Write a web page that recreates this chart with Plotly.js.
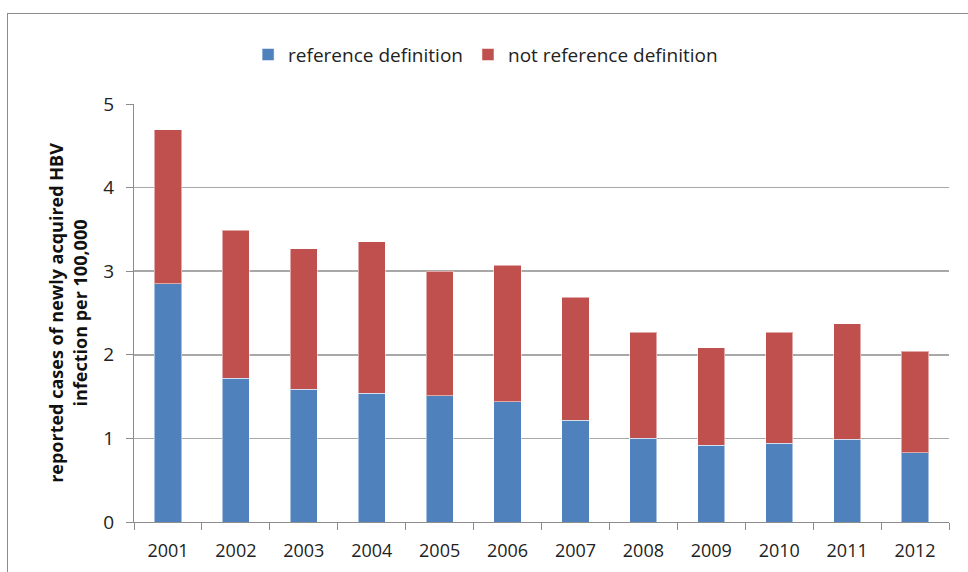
<!DOCTYPE html>
<html>
<head>
<meta charset="utf-8">
<script src="https://cdn.plot.ly/plotly-3.0.1.min.js"></script>
<style>
  html, body { margin: 0; padding: 0; background: #fff; }
  #wrap { position: relative; width: 968px; height: 572px; }
  #chart { width: 968px; height: 572px; }
  #frame { position: absolute; left: 7px; top: 13px; right: 0; bottom: 0;
           border-left: 1px solid #8c8c8c; border-top: 1px solid #8c8c8c;
           pointer-events: none; }
</style>
</head>
<body>
<div id="wrap">
  <div id="chart"></div>
  <div id="frame"></div>
</div>
<script>
const years = ["2001","2002","2003","2004","2005","2006","2007","2008","2009","2010","2011","2012"];
const referenceDefinition = [2.85, 1.72, 1.59, 1.54, 1.51, 1.44, 1.22, 1.00, 0.92, 0.94, 0.99, 0.83];
const notReferenceDefinition = [1.84, 1.77, 1.68, 1.81, 1.49, 1.63, 1.47, 1.27, 1.165, 1.33, 1.38, 1.21];
const seriesNames = ["reference definition", "not reference definition"];
const yTitle = "reported cases of newly acquired HBV<br>infection per 100,000";

const FONT = "Open Sans, DejaVu Sans, sans-serif";

const traces = [
  { type: "bar", name: seriesNames[0], x: years, y: referenceDefinition,
    marker: { color: "#4f81bd", line: { color: "rgba(255,255,255,0.5)", width: 1 } } },
  { type: "bar", name: seriesNames[1], x: years, y: notReferenceDefinition,
    marker: { color: "#c0504d", line: { color: "rgba(255,255,255,0.5)", width: 1 } } }
];

const layout = {
  width: 968, height: 572,
  margin: { l: 134, r: 19, t: 104, b: 50 },
  paper_bgcolor: "rgba(0,0,0,0)",
  plot_bgcolor: "#fff",
  barmode: "stack",
  bargap: 0.6,
  font: { family: FONT, size: 16, color: "#222" },
  showlegend: true,
  legend: { orientation: "h", x: 0.14, xanchor: "left", y: 1.118, yanchor: "middle",
            font: { family: FONT, size: 19, color: "#222" }, itemwidth: 30,
            traceorder: "normal" },
  xaxis: { type: "category", tickson: "boundaries", ticks: "outside", ticklen: 7,
           tickcolor: "#8c8c8c", showline: true, linecolor: "#8c8c8c", linewidth: 1,
           showgrid: false, ticklabelstandoff: 12,
           tickfont: { family: FONT, size: 18, color: "#222" }, automargin: false },
  yaxis: { range: [0, 5], dtick: 1, ticks: "outside", ticklen: 7, tickcolor: "#8c8c8c",
           showline: true, linecolor: "#8c8c8c", linewidth: 1, ticklabelstandoff: 8,
           showgrid: true, gridcolor: "#a8a8a8", gridwidth: 1.5, zeroline: false,
           tickfont: { family: FONT, size: 19, color: "#222" }, automargin: false,
           title: { text: "<b>" + yTitle + "</b>", standoff: 11,
                    font: { family: FONT, size: 18, color: "#111" } } }
};

Plotly.newPlot("chart", traces, layout, { displayModeBar: false, staticPlot: true });
</script>
</body>
</html>
